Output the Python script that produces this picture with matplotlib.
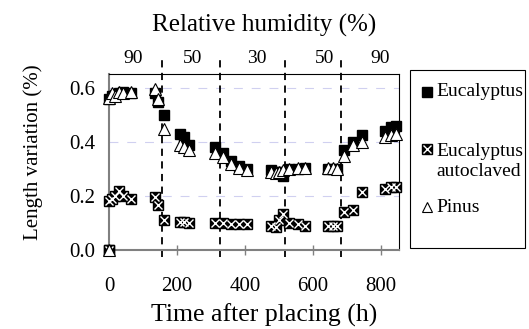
import numpy as np
import matplotlib
matplotlib.use("Agg")
import matplotlib.pyplot as plt
from matplotlib.lines import Line2D
from matplotlib.patches import Rectangle
from matplotlib.transforms import blended_transform_factory

plt.rcParams['font.family'] = ['Liberation Serif', 'DejaVu Serif']

# time after placing (h)
hours = [0, 0, 8, 18, 30, 42, 65, 135, 145, 162, 210, 222, 236, 312, 336, 360, 382,
         405, 478, 490, 500, 512, 530, 555, 578, 645, 658, 670, 692, 718, 744, 812, 830, 845]

# length variation (%)
eucalyptus = [0.0, 0.56, 0.57, 0.575, 0.58, 0.585, 0.58, 0.58, 0.55, 0.50, 0.43, 0.42, 0.39,
              0.38, 0.36, 0.33, 0.31, 0.30, 0.295, 0.29, 0.29, 0.275, 0.30, 0.30, 0.305,
              0.30, 0.30, 0.30, 0.37, 0.40, 0.425, 0.44, 0.455, 0.46]
autoclaved = [0.0, 0.18, 0.19, 0.20, 0.22, 0.20, 0.19, 0.195, 0.165, 0.11, 0.105, 0.105, 0.10,
              0.10, 0.10, 0.095, 0.095, 0.095, 0.09, 0.085, 0.11, 0.135, 0.10, 0.095, 0.09,
              0.09, 0.09, 0.09, 0.14, 0.15, 0.215, 0.225, 0.235, 0.235]
pinus = [0.0, 0.565, 0.58, 0.57, 0.585, 0.58, 0.585, 0.595, 0.56, 0.45, 0.39, 0.38, 0.37,
         0.36, 0.345, 0.32, 0.305, 0.295, 0.29, 0.285, 0.29, 0.295, 0.30, 0.305, 0.305,
         0.305, 0.305, 0.30, 0.35, 0.39, 0.40, 0.42, 0.425, 0.43]

# humidity changes and labels
changeHours = [156, 326, 518, 682]
humidity = ["90", "50", "30", "50", "90"]
humidityHours = [71, 247, 435, 635, 797]

W, H = 529, 329
fig = plt.figure(figsize=(W / 100, H / 100), dpi=100)
ax = fig.add_axes([0.206, 0.240, 0.548, 0.535])

for y in [0.2, 0.4, 0.6]:
    ax.axhline(y, color='#d0d0f0', lw=0.8, ls=(0, (8, 8)), zorder=0)

for h in changeHours:
    ax.plot([h, h], [-0.026, 0.72], color='black', lw=1.3, ls=(0, (4, 3)),
            clip_on=False, zorder=1)

ms = 7.2
ax.plot(hours, eucalyptus, 's', color='black', ms=ms, zorder=3, clip_on=False)
ax.plot(hours, autoclaved, 's', color='black', ms=ms, zorder=3, clip_on=False)
ax.plot(hours, autoclaved, 'x', color='white', ms=ms * 0.75, mew=1.0, zorder=3,
        clip_on=False)
ax.plot(hours, pinus, '^', mfc='white', mec='black', ms=ms + 0.8, mew=0.8, zorder=4,
        clip_on=False)

ax.set_xlim(0, 853)
ax.set_ylim(0, 0.652)
ax.set_xticks([0, 200, 400, 600, 800])
ax.set_yticks([0.0, 0.2, 0.4, 0.6])
ax.set_yticklabels(["0.0", "0.2", "0.4", "0.6"])
ax.tick_params(axis='x', direction='inout', length=7, color='#808080', width=1,
               labelsize=15, pad=16)
ax.tick_params(axis='y', length=0, labelsize=15, pad=10)
ax.xaxis.get_major_ticks()[0].tick1line.set_visible(False)

for side in ['left', 'bottom']:
    ax.spines[side].set_color('#808080')
    ax.spines[side].set_linewidth(1.5)
for side in ['top', 'right']:
    ax.spines[side].set_color('black')
    ax.spines[side].set_linewidth(0.8)

fig.text(264 / W, 1 - 315 / H, "Time after placing (h)", ha='center', va='center',
         fontsize=18.5)
fig.text(33 / W, 1 - 152 / H, "Length variation (%)", ha='center', va='center',
         rotation=90, fontsize=15)

trans = blended_transform_factory(ax.transData, ax.transAxes)
for h, lab in zip(humidityHours, humidity):
    ax.text(h, 1.09, lab, transform=trans, ha='center', va='center', fontsize=14)
fig.text(264 / W, 1 - 25 / H, "Relative humidity (%)", ha='center', va='center',
         fontsize=18)

# legend, drawn by hand (uneven spacing in the original)
fig.patches.append(Rectangle((410 / W, 1 - 248 / H), 115 / W, 178 / H,
                             transform=fig.transFigure, fill=False, edgecolor='black',
                             lw=0.8))


def legMarker(y, **kw):
    fig.add_artist(Line2D([427 / W], [1 - y / H], transform=fig.transFigure, ls='none', **kw))


lms = 7.5
legMarker(92, marker='s', color='black', ms=lms)
legMarker(149, marker='s', color='black', ms=lms)
legMarker(149, marker='x', color='white', ms=lms * 0.75, mew=1.0)
legMarker(207, marker='^', mfc='white', mec='black', ms=lms, mew=0.8)

legFont = 14
fig.text(436 / W, 1 - 92 / H, "Eucalyptus", ha='left', va='center', fontsize=legFont)
fig.text(436 / W, 1 - 151 / H, "Eucalyptus", ha='left', va='center', fontsize=legFont)
fig.text(436 / W, 1 - 172 / H, "autoclaved", ha='left', va='center', fontsize=legFont)
fig.text(436 / W, 1 - 208 / H, "Pinus", ha='left', va='center', fontsize=legFont)

fig.savefig("out.png", dpi=100)
